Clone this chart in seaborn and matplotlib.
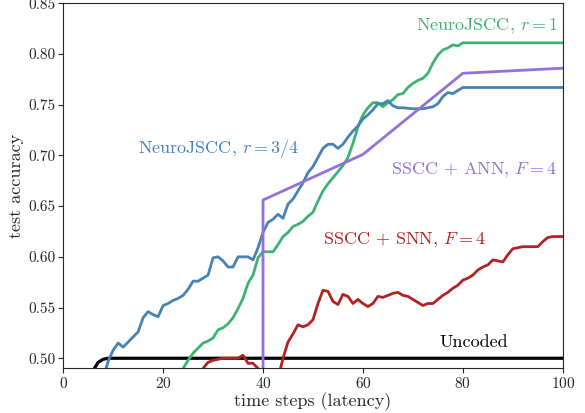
import numpy as np
import pandas as pd
import matplotlib
matplotlib.use("Agg")
import matplotlib.pyplot as plt
import seaborn as sns

# NeuroJSCC, r = 3/4 (blue)
blue_t = [7, 8, 9, 10, 11, 12, 13, 14, 15, 16, 17, 18, 19, 20, 21, 22, 23, 24, 25, 26, 27, 28, 29,
          30, 31, 32, 33, 34, 35, 36, 37, 38, 39, 40, 41, 42, 43, 44, 45, 46, 47, 48, 49, 50,
          51, 52, 53, 54, 55, 56, 57, 58, 59, 60, 61, 62, 63, 64, 65, 66, 67, 68, 70, 72,
          74, 75, 76, 77, 78, 79, 80, 90, 100]
blue_acc = [0.460, 0.480, 0.497, 0.508, 0.515, 0.511, 0.516, 0.521, 0.526, 0.540, 0.546, 0.543,
            0.541, 0.552, 0.554, 0.557, 0.559, 0.562, 0.568, 0.576, 0.576, 0.579, 0.582,
            0.599, 0.600, 0.596, 0.590, 0.590, 0.600, 0.600, 0.600, 0.597, 0.609, 0.624,
            0.634, 0.637, 0.642, 0.638, 0.652, 0.657, 0.665, 0.673, 0.683, 0.689, 0.698,
            0.707, 0.711, 0.711, 0.707, 0.711, 0.718, 0.724, 0.729, 0.736, 0.740, 0.745,
            0.751, 0.751, 0.754, 0.749, 0.747, 0.747, 0.746, 0.746, 0.748, 0.751, 0.758,
            0.762, 0.761, 0.764, 0.767, 0.767, 0.767]

# NeuroJSCC, r = 1 (green)
green_t = [22, 23, 24, 25, 26, 27, 28, 29, 30, 31, 32, 33, 34, 35, 36, 37, 38, 39, 40, 41, 42,
           43, 44, 45, 46, 47, 48, 49, 50, 51, 52, 53, 54, 55, 56, 57, 58, 59, 60, 61, 62,
           63, 64, 65, 66, 67, 68, 69, 70, 71, 72, 73, 74, 75, 76, 77, 78, 79, 80, 90, 100]
green_acc = [0.460, 0.475, 0.490, 0.498, 0.505, 0.510, 0.515, 0.517, 0.520, 0.528, 0.530, 0.534,
             0.540, 0.549, 0.559, 0.574, 0.582, 0.599, 0.605, 0.605, 0.605, 0.612, 0.620,
             0.624, 0.630, 0.632, 0.635, 0.640, 0.644, 0.655, 0.665, 0.672, 0.678, 0.684,
             0.690, 0.698, 0.712, 0.728, 0.740, 0.747, 0.752, 0.752, 0.748, 0.752, 0.755,
             0.760, 0.761, 0.767, 0.771, 0.774, 0.776, 0.781, 0.791, 0.799, 0.804, 0.806,
             0.809, 0.808, 0.811, 0.811, 0.811]

# SSCC + ANN, F = 4 (purple)
purple_t = [40, 40, 60, 80, 100]
purple_acc = [0.300, 0.656, 0.701, 0.781, 0.786]

# SSCC + SNN, F = 4 (red)
red_t = [27, 28, 29, 30, 31, 32, 33, 34, 35, 36, 37, 38, 39, 40, 41, 42, 43, 44, 45, 46, 47, 48,
         49, 50, 51, 52, 53, 54, 55, 56, 57, 58, 59, 60, 61, 62, 63, 64, 65, 66, 67, 68, 69,
         70, 71, 72, 73, 74, 75, 76, 77, 78, 79, 80, 81, 82, 83, 84, 85, 86, 87, 88, 89, 90,
         91, 92, 93, 94, 95, 96, 97, 98, 99, 100]
red_acc = [0.480, 0.490, 0.496, 0.498, 0.499, 0.500, 0.500, 0.500, 0.500, 0.503, 0.495, 0.495,
           0.490, 0.440, 0.420, 0.440, 0.480, 0.500, 0.516, 0.524, 0.533, 0.531, 0.533,
           0.538, 0.554, 0.567, 0.566, 0.556, 0.553, 0.563, 0.561, 0.554, 0.558, 0.554,
           0.551, 0.554, 0.561, 0.560, 0.562, 0.564, 0.565, 0.562, 0.561, 0.558, 0.555,
           0.552, 0.554, 0.554, 0.558, 0.562, 0.565, 0.569, 0.572, 0.577, 0.579, 0.582,
           0.587, 0.590, 0.592, 0.597, 0.596, 0.595, 0.602, 0.608, 0.609, 0.610, 0.610,
           0.610, 0.610, 0.615, 0.619, 0.620, 0.620, 0.620]

# Uncoded (black)
black_t = [5, 6, 7, 8, 9, 10, 100]
black_acc = [0.470, 0.488, 0.496, 0.499, 0.500, 0.500, 0.500]

sns.set_style("ticks")
plt.rcParams['font.family'] = ['cmr10', 'DejaVu Serif']
plt.rcParams['mathtext.fontset'] = 'cm'
plt.rcParams['axes.formatter.use_mathtext'] = True
plt.rcParams['axes.unicode_minus'] = False

fig, ax = plt.subplots(figsize=(5.85, 4.13), dpi=100)
fig.subplots_adjust(left=0.108, right=0.962, top=0.992, bottom=0.108)

sns.lineplot(x=black_t, y=black_acc, color='black', lw=2.3, ax=ax)
sns.lineplot(x=red_t, y=red_acc, color='#b22222', lw=2, ax=ax)
sns.lineplot(x=green_t, y=green_acc, color='#3cb371', lw=2, ax=ax)
sns.lineplot(x=blue_t, y=blue_acc, color='#4682b4', lw=2, ax=ax)
ax.plot(purple_t, purple_acc, color='#9370db', lw=2)

ax.text(99, 0.828, r'NeuroJSCC, $r=1$', color='#3cb371', fontsize=13, ha='right', va='center')
ax.text(15, 0.706, r'NeuroJSCC, $r=3/4$', color='#4682b4', fontsize=13, ha='left', va='center')
ax.text(99, 0.686, r'SSCC + ANN, $F=4$', color='#9370db', fontsize=13, ha='right', va='center')
ax.text(52, 0.617, r'SSCC + SNN, $F=4$', color='#b22222', fontsize=13, ha='left', va='center')
ax.text(75.4, 0.516, 'Uncoded', color='black', fontsize=13, ha='left', va='center')

ax.set_xlim(0, 100)
ax.set_ylim(0.49, 0.85)
ax.set_xticks([0, 20, 40, 60, 80, 100])
ax.set_yticks([0.50, 0.55, 0.60, 0.65, 0.70, 0.75, 0.80, 0.85])
ax.yaxis.set_major_formatter(matplotlib.ticker.FormatStrFormatter('%.2f'))
ax.tick_params(labelsize=11, pad=2)
ax.set_xlabel('time steps (latency)', fontsize=13, labelpad=1)
ax.set_ylabel('test accuracy', fontsize=13, labelpad=3)

plt.savefig('out.png', dpi=100)
